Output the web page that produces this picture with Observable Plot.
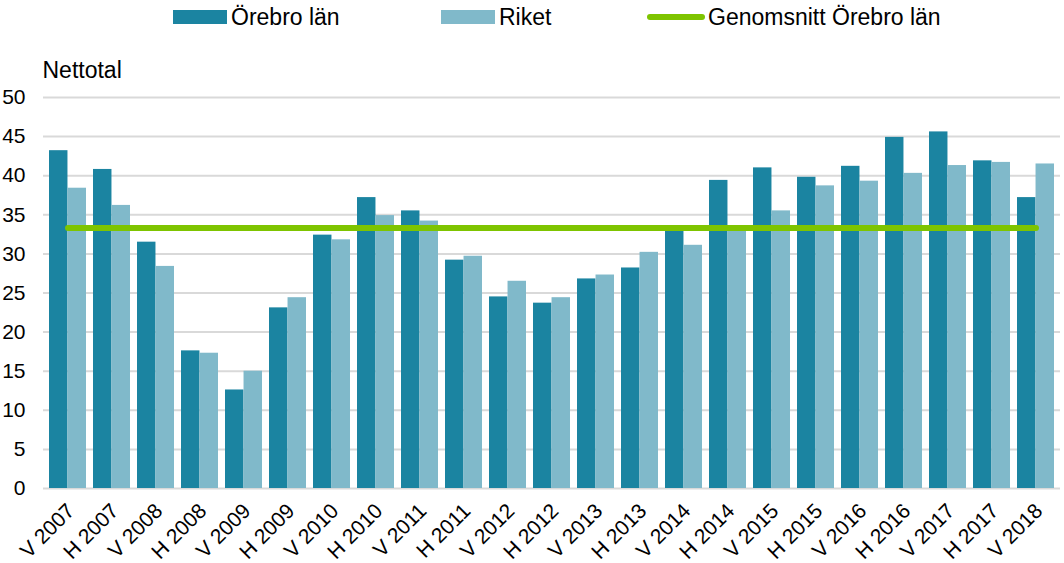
<!DOCTYPE html>
<html>
<head>
<meta charset="utf-8">
<script src="https://cdn.jsdelivr.net/npm/d3@7"></script>
<script src="https://cdn.jsdelivr.net/npm/@observablehq/plot@0.6"></script>
<style>
  html, body { margin: 0; padding: 0; background: #fff; }
  body { font-family: "Liberation Sans", Arial, sans-serif; }
  #wrap { position: relative; width: 1064px; height: 563px; }
  .leg { position: absolute; top: 0; height: 34px; display: flex; align-items: center; font-size: 23px; color: #000; white-space: nowrap; }
  .sw { display: inline-block; width: 54px; height: 14px; margin-right: 4px; }
  .ln { display: inline-block; width: 58px; height: 6px; border-radius: 3px; margin-right: 3px; }
  svg { position: absolute; left: 0; top: 0; }
</style>
</head>
<body>
<div id="wrap">
  <div class="leg" style="left:173px"><span class="sw" style="background:#1b84a1"></span>Örebro län</div>
  <div class="leg" style="left:441px"><span class="sw" style="background:#80b9ca"></span>Riket</div>
  <div class="leg" style="left:647px"><span class="ln" style="background:#7ec400"></span>Genomsnitt Örebro län</div>
</div>
<script>
const categories = ["V 2007","H 2007","V 2008","H 2008","V 2009","H 2009","V 2010","H 2010","V 2011","H 2011","V 2012","H 2012","V 2013","H 2013","V 2014","H 2014","V 2015","H 2015","V 2016","H 2016","V 2017","H 2017","V 2018"];
const orebro = [43.2,40.8,31.5,17.6,12.6,23.1,32.4,37.2,35.5,29.2,24.5,23.7,26.8,28.2,33.6,39.4,41.0,39.8,41.2,44.9,45.6,41.9,37.2];
const riket  = [38.4,36.2,28.4,17.3,15.0,24.4,31.8,34.9,34.2,29.7,26.5,24.4,27.3,30.2,31.1,33.0,35.5,38.7,39.3,40.3,41.3,41.7,41.5];
const average = [33.3];
const yTicks = [0,5,10,15,20,25,30,35,40,45,50];

const W = 1064, H = 563, mL = 43, mR = 4, mT = 97, mB = 75;
const pIn = 0.16, pOut = 0.1;
const step = (W - mL - mR) / (categories.length - pIn + 2 * pOut);
const bw = step * (1 - pIn);

const dataO = categories.map((c, i) => ({cat: c, v: orebro[i]}));
const dataR = categories.map((c, i) => ({cat: c, v: riket[i]}));
const dataA = categories.map(c => ({cat: c, v: average[0]}));

const chart = Plot.plot({
  width: W, height: H,
  marginLeft: mL, marginRight: mR, marginTop: mT, marginBottom: mB,
  style: {fontFamily: '"Liberation Sans", Arial, sans-serif', fontSize: "21px", color: "#000", background: "transparent"},
  x: {type: "band", domain: categories, paddingInner: pIn, paddingOuter: pOut, align: 0.5, axis: null},
  y: {domain: [0, 50]},
  marks: [
    Plot.gridY(yTicks, {stroke: "#d9d9d9", strokeOpacity: 1, strokeWidth: 2}),
    Plot.barY(dataO, {x: "cat", y: "v", fill: "#1b84a1", insetRight: bw / 2}),
    Plot.barY(dataR, {x: "cat", y: "v", fill: "#80b9ca", insetLeft: bw / 2}),
    Plot.lineY(dataA, {x: "cat", y: "v", stroke: "#7ec400", strokeWidth: 6, strokeLinecap: "round"}),
    Plot.axisY(yTicks, {tickSize: 0, tickPadding: 18, label: null, fontSize: 21}),
    Plot.text(categories, {x: d => d, frameAnchor: "bottom", rotate: -45, textAnchor: "end", lineAnchor: "middle", dx: 3, dy: 19, fontSize: 21, fill: "#000"}),
    Plot.text(["Nettotal"], {frameAnchor: "top-left", textAnchor: "start", lineAnchor: "bottom", dx: -1, dy: -20, fontSize: 23})
  ]
});
document.getElementById("wrap").appendChild(chart);
</script>
</body>
</html>
